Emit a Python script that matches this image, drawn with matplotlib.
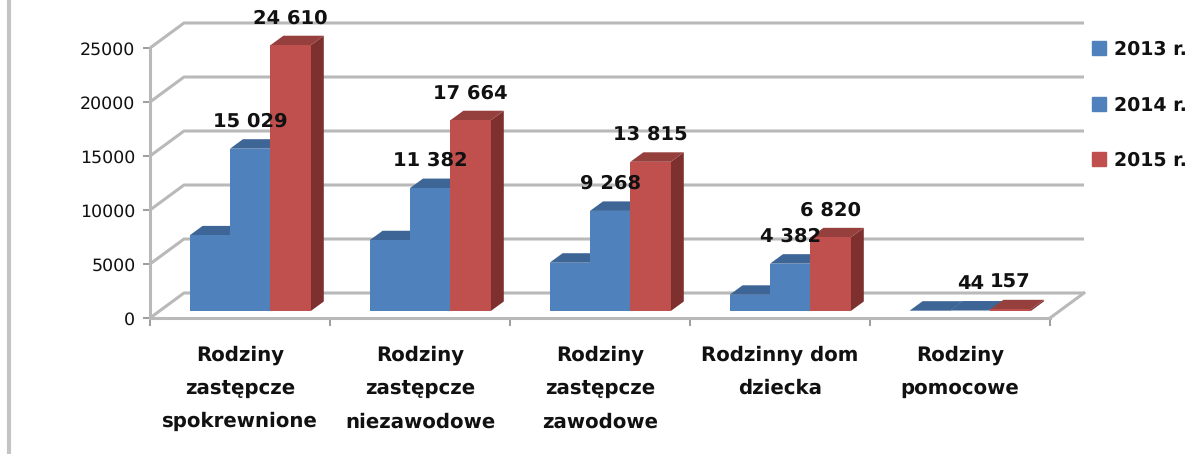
import matplotlib
matplotlib.use("Agg")
import matplotlib.pyplot as plt
from matplotlib.lines import Line2D
from matplotlib.patches import Patch

plt.rcParams["text.hinting"] = "no_hinting"

categories = ["Rodziny\nzastępcze\nspokrewnione", "Rodziny\nzastępcze\nniezawodowe",
              "Rodziny\nzastępcze\nzawodowe", "Rodzinny dom\ndziecka", "Rodziny\npomocowe"]
years = ["2013 r.", "2014 r.", "2015 r."]
values_2013 = [7000, 6550, 4470, 1500, 30]
values_2014 = [15029, 11382, 9268, 4382, 44]
values_2015 = [24610, 17664, 13815, 6820, 157]
yticks = [0, 5000, 10000, 15000, 20000, 25000]

BLUE, BLUE_DARK, BLUE_TOP = "#4f81bd", "#2f4f78", "#3d6596"
RED, RED_DARK, RED_TOP = "#c0504d", "#7d302e", "#96403d"
GRID = "#b9b9b9"
TEXT = "#111111"

W, H = 1190, 454
fig = plt.figure(figsize=(W / 100, H / 100), dpi=100)
ax = fig.add_axes([150 / W, 1 - 318 / H, 900 / W, 270 / H])
ax.set_xlim(0, 5)
ax.set_ylim(0, 25000)

# pixels -> data units, the 3D look is only offsets
px_x = 5 / 900
px_y = 25000 / 270
wall_dx, wall_dy = 34 * px_x, 25 * px_y
side_dx, side_dy = 13 * px_x, 9.5 * px_y
bar_w = 40.4 * px_x
start = 39.6 * px_x
base = 7 * px_y

# walls and floor
for t in yticks:
    ax.plot([0, wall_dx, 5 + wall_dx], [t, t + wall_dy, t + wall_dy],
            color=GRID, lw=2.2, clip_on=False, zorder=1, solid_capstyle="butt")
ax.plot([5, 5 + wall_dx], [0, wall_dy], color=GRID, lw=2.2, clip_on=False, zorder=1)

series = [(values_2013, BLUE, BLUE_DARK, BLUE_TOP),
          (values_2014, BLUE, BLUE_DARK, BLUE_TOP),
          (values_2015, RED, RED_DARK, RED_TOP)]

for j, (vals, col, dark, top) in enumerate(series):
    for i, v in enumerate(vals):
        x0 = i + start + j * bar_w
        y1 = base + v
        z = 3 + j
        ax.fill([x0 + bar_w, x0 + bar_w + side_dx, x0 + bar_w + side_dx, x0 + bar_w],
                [base, base + side_dy, y1 + side_dy, y1], color=dark, lw=0, zorder=z, clip_on=False)
        ax.fill([x0, x0 + side_dx, x0 + bar_w + side_dx, x0 + bar_w],
                [y1, y1 + side_dy, y1 + side_dy, y1], color=top, lw=0, zorder=z, clip_on=False)
        ax.bar(x0, v, bar_w, bottom=base, align="edge", color=col, lw=0, zorder=z + 0.5, clip_on=False)

# data labels, 2013 has none
for j, vals in [(1, values_2014), (2, values_2015)]:
    for i, v in enumerate(vals):
        ax.annotate(f"{v:,}".replace(",", " "), (i + start + (j + 0.5) * bar_w, base + v),
                    xytext=(0, 19.5), textcoords="offset points", ha="center", va="center",
                    fontsize=14, fontweight="bold", color=TEXT, zorder=10, annotation_clip=False)

for s in ["top", "right"]:
    ax.spines[s].set_visible(False)
for s in ["left", "bottom"]:
    ax.spines[s].set_color(GRID)
    ax.spines[s].set_linewidth(2.2)
    ax.spines[s].set_zorder(2)

ax.set_yticks(yticks)
ax.set_yticklabels([str(t) for t in yticks], fontsize=12.5, color=TEXT)
ax.tick_params(axis="y", length=5, width=1.2, color="#8c8c8c", pad=5.5)
ax.set_xticks(range(6))
ax.set_xticklabels([])
ax.tick_params(axis="x", which="major", length=6, width=1.2, color="#8c8c8c")
ax.set_xticks([i + 0.5 for i in range(5)], categories, minor=True,
              fontsize=14.2, fontweight="bold", color=TEXT, linespacing=1.9, ma="center")
ax.tick_params(axis="x", which="minor", length=0, pad=20)

handles = [Patch(color=BLUE), Patch(color=BLUE), Patch(color=RED)]
ax.legend(handles, years, loc="upper left", bbox_to_anchor=(1084 / W, 1 - 33 / H),
          bbox_transform=fig.transFigure, frameon=False,
          prop={"size": 13.6, "weight": "bold"}, labelcolor=TEXT, handlelength=0.75,
          handleheight=0.75, handletextpad=0.45, labelspacing=1.96, borderpad=0.4, borderaxespad=0)

# grey page edge on the left
fig.add_artist(Line2D([8.5 / W, 8.5 / W], [0, 1], color="#c4c4c4", lw=3))

fig.savefig("out.png", dpi=100)
